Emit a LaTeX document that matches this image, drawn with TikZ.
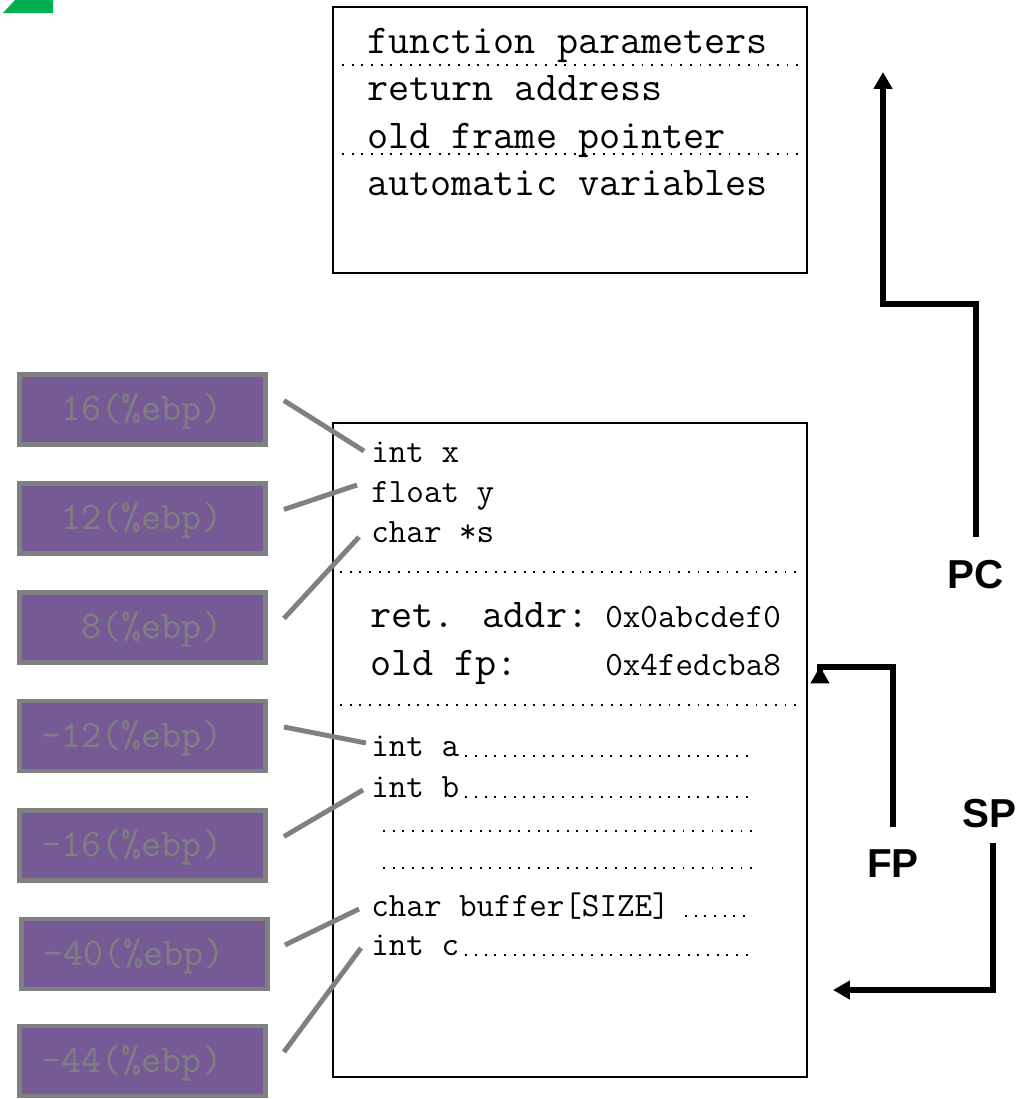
\documentclass[tikz,border=0pt]{standalone}
\usepackage{fontspec}
\setmainfont{Liberation Serif}
\setsansfont{Liberation Sans}
\usetikzlibrary{arrows.meta, calc}
\definecolor{inkc}{RGB}{0,0,0}
\definecolor{slotc}{RGB}{118,90,150}
\definecolor{greyc}{RGB}{128,128,128}
\definecolor{leafc}{RGB}{0,176,80}
\tikzset{
  frame/.style={rectangle, draw=inkc, line width=1.1pt, fill=white},
  bigcode/.style={font=\fontsize{23.3}{27}\selectfont\ttfamily, text=inkc,
                  inner sep=0pt, anchor=base west},
  code/.style={bigcode, font=\fontsize{19.4}{23}\selectfont\ttfamily},
  slot/.style={rectangle, draw=greyc, line width=2.8pt, fill=slotc,
               minimum width=4.92cm, minimum height=1.4cm},
  slottxt/.style={font=\fontsize{22.2}{26}\selectfont\ttfamily, text=greyc,
                  inner sep=0pt, anchor=base east},
  tie/.style={draw=greyc, line width=2.8pt},
  dotline/.style={draw=inkc, line width=1.1pt, dash pattern=on 1.1pt off 4.4pt},
  ptr/.style={-{Triangle[length=9.6pt, width=10.2pt]}, line width=3.5pt, draw=inkc},
  reg/.style={font=\fontsize{23}{27}\selectfont\sffamily\bfseries, text=inkc, inner sep=0pt},
}

\begin{document}
\begin{tikzpicture}[x=0.02cm, y=0.02cm]

  \useasboundingbox (0,0) rectangle (1019,-1099);
  \fill[white] (0,0) rectangle (1019,-1099);
  \fill[leafc] (3,-13) -- (15,0) -- (53,0) -- (53,-13) -- cycle;

  % generic frame layout
  \node[frame, minimum width=9.48cm, minimum height=5.32cm] (callframe) at (570,-140) {};
  \node[bigcode] (fparams) at (367,-53) {function parameters};
  \node[bigcode] (retad) at (367,-100) {return address};
  \node[bigcode] (oldptr) at (367,-148) {old frame pointer};
  \node[bigcode] (autov) at (367,-195) {automatic variables};
  \draw[dotline] (342,-65) -- (800,-65);
  \draw[dotline] (342,-154) -- (800,-154);

  % the concrete frame
  \node[frame, minimum width=9.48cm, minimum height=13.08cm] (curframe) at (570,-750) {};
  \node[code] (intx) at (371,-462) {int x};
  \node[code] (floaty) at (371,-502) {float y};
  \node[code] (chars) at (371,-542) {char *s};
  \draw[dotline] (340,-572) -- (800,-572);
  \node[bigcode] (retaddr) at (370,-627) {ret. addr:};
  \node[code] (retval) at (605,-627) {0x0abcdef0};
  \node[bigcode] (oldfp) at (370,-675) {old fp:};
  \node[code] (oldval) at (605,-675) {0x4fedcba8};
  \draw[dotline] (340,-705) -- (800,-705);
  \node[code] (inta) at (371,-756) {int a};
  \node[code] (intb) at (371,-797) {int b};
  \draw[dotline] (383,-831) -- (755,-831);
  \draw[dotline] (383,-868) -- (755,-868);
  \node[code] (buf) at (371,-916) {char buffer[SIZE]};
  \node[code] (intc) at (371,-955) {int c};

  \coordinate (leadend) at (748,0);
  \draw[dotline] ($(inta.base east)+(6,0)$) -- (inta.base east -| leadend);
  \draw[dotline] ($(intb.base east)+(6,0)$) -- (intb.base east -| leadend);
  \draw[dotline] ($(buf.base east)+(15,0)$) -- (buf.base east -| leadend);
  \draw[dotline] ($(intc.base east)+(6,0)$) -- (intc.base east -| leadend);

  % offsets from the frame pointer
  \node[slot] (b16) at (142.5,-409.5) {};
  \node[slottxt] (t16) at ($(b16.center)+(80,-11)$) {16(\%ebp)};
  \node[slot] (b12) at (142.5,-518.5) {};
  \node[slottxt] (t12) at ($(b12.center)+(80,-11)$) {12(\%ebp)};
  \node[slot] (b8) at (142.5,-627.5) {};
  \node[slottxt] (t8) at ($(b8.center)+(80,-11)$) {8(\%ebp)};
  \node[slot] (bm12) at (142.5,-736) {};
  \node[slottxt] (tm12) at ($(bm12.center)+(80,-11)$) {-12(\%ebp)};
  \node[slot] (bm16) at (142.5,-845.5) {};
  \node[slottxt] (tm16) at ($(bm16.center)+(80,-11)$) {-16(\%ebp)};
  \node[slot] (bm40) at (144.5,-954) {};
  \node[slottxt] (tm40) at ($(bm40.center)+(80,-11)$) {-40(\%ebp)};
  \node[slot] (bm44) at (142.5,-1061) {};
  \node[slottxt] (tm44) at ($(bm44.center)+(80,-11)$) {-44(\%ebp)};

  \draw[tie] ($(b16.east)+(16,9)$) -- ($(intx.base west)+(-7,11)$);
  \draw[tie] ($(b12.east)+(16,9)$) -- ($(floaty.base west)+(-14,17)$);
  \draw[tie] ($(b8.east)+(16,9)$) -- ($(chars.base west)+(-12,5)$);
  \draw[tie] ($(bm12.east)+(16,9)$) -- ($(inta.base west)+(-5,13)$);
  \draw[tie] ($(bm16.east)+(16,9)$) -- ($(intb.base west)+(-8,7)$);
  \draw[tie] ($(bm40.east)+(15,9)$) -- ($(buf.base west)+(-12,7)$);
  \draw[tie] ($(bm44.east)+(16,9)$) -- ($(intc.base west)+(-10,7)$);

  % registers
  \node[reg] (pc) at (976,-575) {PC};
  \node[reg] (fp) at (893,-864) {FP};
  \node[reg] (sp) at (989,-814) {SP};
  \coordinate (pctip) at (883,-72);
  \coordinate (fpbend) at (820,-667);
  \coordinate (sptip) at (833,-990);

  \draw[ptr] ($(pc.north)+(0,23)$) -- ++(0,233) -| (pctip);
  \draw[ptr] ($(fp.north)+(0,23)$) |- (fpbend) -- ++(0,0.5);
  \draw[ptr] ($(sp.south)+(4,-14)$) |- (sptip);

\end{tikzpicture}
\end{document}
